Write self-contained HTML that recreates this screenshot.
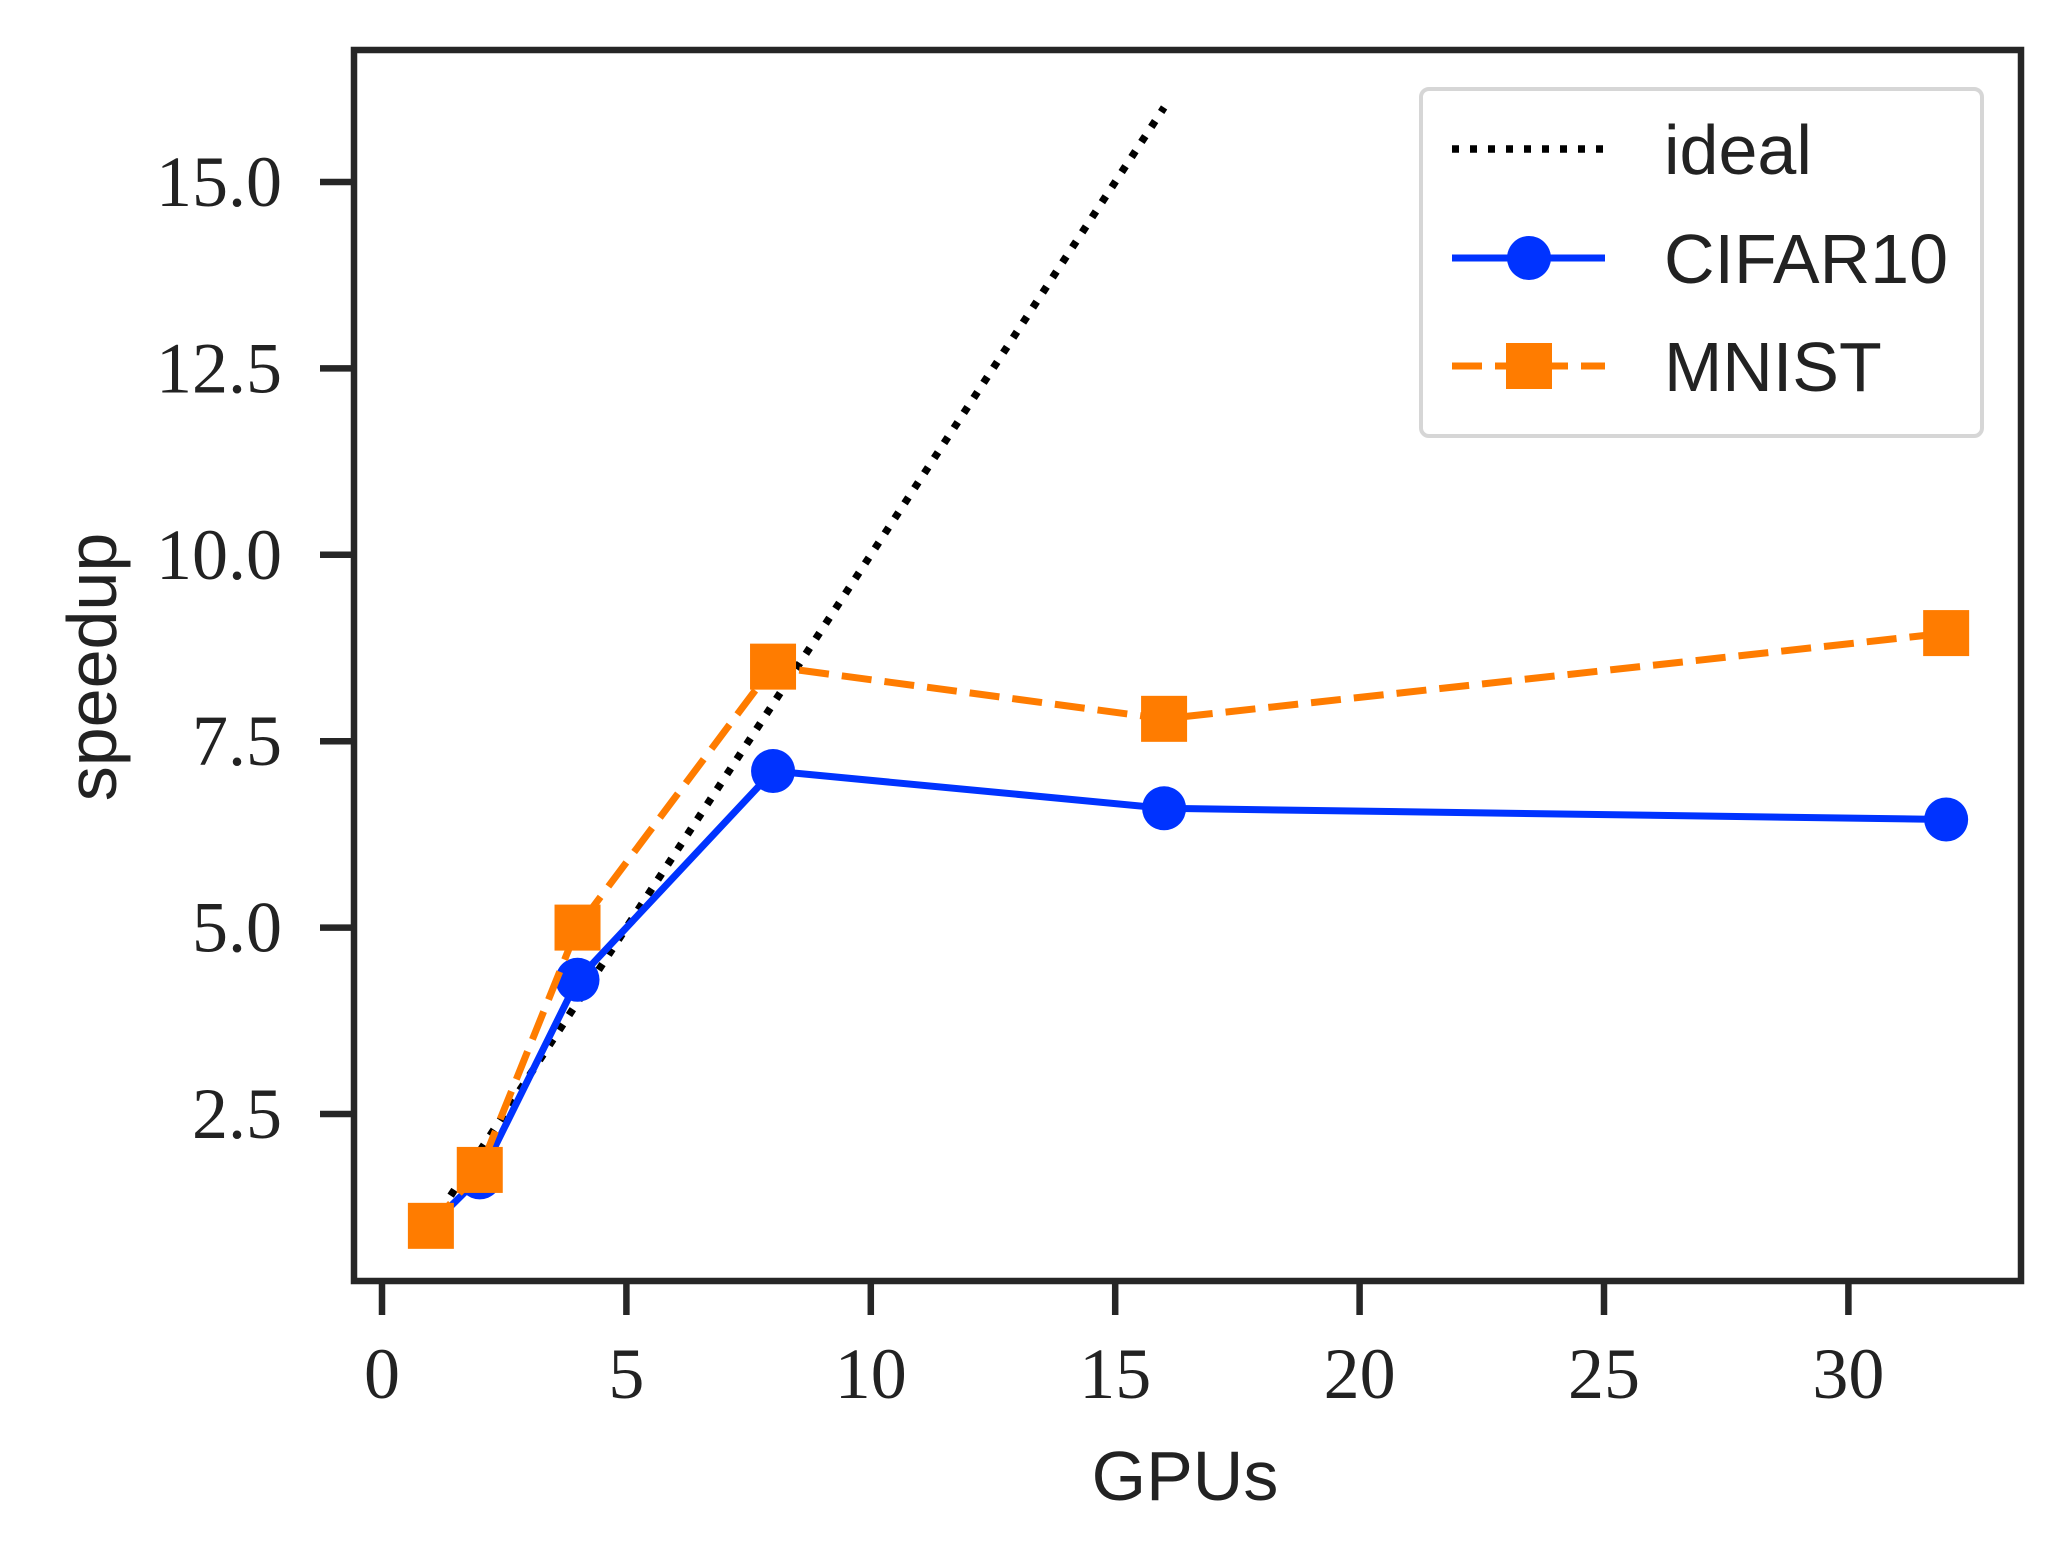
<!DOCTYPE html>
<html><head><meta charset="utf-8"><style>
html,body{margin:0;padding:0;background:#fff;}
svg{display:block;}
.tick{font-family:"Liberation Serif",serif;font-size:72px;fill:#222;}
.lab{font-family:"Liberation Sans",sans-serif;font-size:70px;fill:#222;}
</style></head><body>
<svg id="chart" width="2058" height="1558" viewBox="0 0 2058 1558" xmlns="http://www.w3.org/2000/svg">
<g id="plot"></g>
</svg>
<script>
const gpus = [1, 2, 4, 8, 16, 32];
const cifar = [1.0, 1.65, 4.3, 7.1, 6.6, 6.45];
const mnist = [1.0, 1.75, 5.0, 8.5, 7.8, 8.95];
const idealX = [1, 16];
const idealY = [1, 16];
const xTicks = [0, 5, 10, 15, 20, 25, 30];
const yTicks = [2.5, 5.0, 7.5, 10.0, 12.5, 15.0];

const L=354,R=2021,T=50,B=1281;
const sx=v=>382+v*48.88;
const sy=v=>182+(15-v)*74.56;
const NS="http://www.w3.org/2000/svg";
const g=document.getElementById('plot');
function mk(tag,attrs,parent){const e=document.createElementNS(NS,tag);for(const k in attrs)e.setAttribute(k,attrs[k]);(parent||g).appendChild(e);return e;}

let frame=mk('rect',{x:L,y:T,width:R-L,height:B-T,fill:'none',stroke:'#262626','stroke-width':6.5});



xTicks.forEach(v=>{
  const t=mk('line',{x1:sx(v),x2:sx(v),y1:B,y2:B+34,stroke:'#262626','stroke-width':6.5});
  
  
  const l=mk('text',{x:sx(v),y:1398,'text-anchor':'middle',class:'tick'});l.textContent=v;
  
  
});
yTicks.forEach(v=>{
  const t=mk('line',{x1:L-34,x2:L,y1:sy(v),y2:sy(v),stroke:'#262626','stroke-width':6.5});
  
  
  const l=mk('text',{x:282,y:sy(v)+24,'text-anchor':'end',class:'tick'});l.textContent=v.toFixed(1);
  
  
});

const xl=mk('text',{x:1185,y:1500,'text-anchor':'middle',class:'lab'});xl.textContent='GPUs';


const yl=mk('text',{x:0,y:0,'text-anchor':'middle',class:'lab',transform:'translate(116,667) rotate(-90)'});yl.textContent='speedup';



const pts=(xs,ys)=>xs.map((x,i)=>sx(x)+','+sy(ys[i])).join(' ');
const ideal=mk('polyline',{points:pts(idealX,idealY),fill:'none',stroke:'#000','stroke-width':7.5,'stroke-dasharray':'7,11'});



const cl=mk('polyline',{points:pts(gpus,cifar),fill:'none',stroke:'#0033ff','stroke-width':7});


gpus.forEach((x,i)=>{
  const c=mk('circle',{cx:sx(x),cy:sy(cifar[i]),r:22,fill:'#0033ff'});
  
  
});
const ml=mk('polyline',{points:pts(gpus,mnist),fill:'none',stroke:'#ff7c00','stroke-width':7,'stroke-dasharray':'30,13'});


gpus.forEach((x,i)=>{
  const s=mk('rect',{x:sx(x)-23,y:sy(mnist[i])-23,width:46,height:46,fill:'#ff7c00'});
  
  
});

// legend
const lg=mk('g',{});


mk('rect',{x:1421,y:89,width:561,height:347,rx:8,fill:'#fff','fill-opacity':0.85,stroke:'#d6d6d6','stroke-width':4},lg);
const ents=[['ideal',149],['CIFAR10',258],['MNIST',366]];
mk('line',{x1:1452,x2:1605,y1:149,y2:149,stroke:'#000','stroke-width':7.5,'stroke-dasharray':'7,11'},lg);
mk('line',{x1:1452,x2:1605,y1:258,y2:258,stroke:'#0033ff','stroke-width':7},lg);
mk('circle',{cx:1529,cy:258,r:22,fill:'#0033ff'},lg);
mk('line',{x1:1452,x2:1605,y1:366,y2:366,stroke:'#ff7c00','stroke-width':7,'stroke-dasharray':'30,13'},lg);
mk('rect',{x:1506,y:343,width:46,height:46,fill:'#ff7c00'},lg);
ents.forEach(([n,y])=>{
  const t=mk('text',{x:1664,y:y+25,class:'lab'},lg);t.textContent=n;
  
  
});
</script>
</body></html>
